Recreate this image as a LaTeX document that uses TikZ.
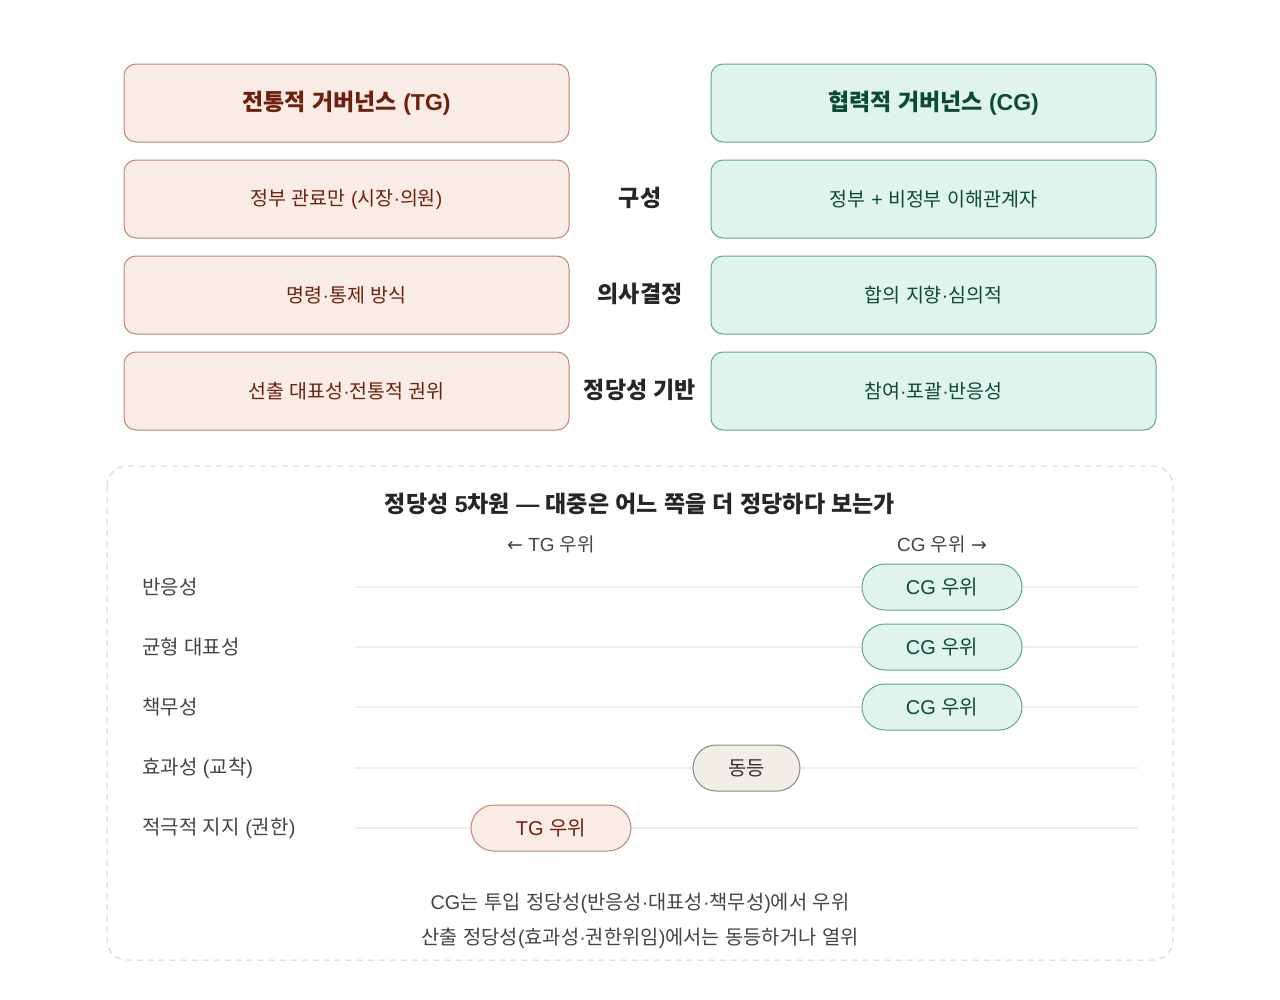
\documentclass[tikz,border=0pt]{standalone}
\usepackage{fontspec}
\setmainfont{Noto Sans CJK KR}
\newfontfamily\lat{Liberation Sans}
\newfontfamily\arr{DejaVu Sans}
\newcommand\lt[1]{{\lat#1}}
\usetikzlibrary{shapes.misc}
\definecolor{tgfill}{HTML}{F9ECE6}
\definecolor{tgdraw}{HTML}{C08470}
\definecolor{tgtext}{HTML}{6E200C}
\definecolor{cgfill}{HTML}{E1F4EC}
\definecolor{cgdraw}{HTML}{5FA88C}
\definecolor{cgtext}{HTML}{0A4B33}
\definecolor{eqfill}{HTML}{F1EEE8}
\definecolor{eqdraw}{HTML}{8C8882}
\definecolor{eqtext}{HTML}{333333}
\definecolor{graytext}{HTML}{444444}
\definecolor{rowline}{HTML}{EEEEEE}
\definecolor{dashc}{HTML}{D2D2D2}
\tikzset{
  x=1pt, y=-1pt,
  tgbox/.style={draw=tgdraw, fill=tgfill, line width=1pt, rounded corners=12pt, minimum width=445pt, minimum height=78pt, text=tgtext, inner sep=0pt},
  cgbox/.style={draw=cgdraw, fill=cgfill, line width=1pt, rounded corners=12pt, minimum width=445pt, minimum height=78pt, text=cgtext, inner sep=0pt},
  headtxt/.style={font=\fontsize{23}{27}\selectfont\bfseries},
  celltxt/.style={font=\fontsize{19.5}{23}\selectfont},
  midlabel/.style={font=\fontsize{23}{27}\selectfont\bfseries, text=black!85},
  rowlabel/.style={anchor=west, inner sep=0pt, font=\fontsize{20}{24}\selectfont, text=graytext},
  rowrule/.style={draw=rowline, line width=1.6pt},
  pill/.style={rounded rectangle, line width=1pt, minimum height=46pt, font=\fontsize{20}{24}\selectfont, inner sep=0pt},
  cgpill/.style={pill, draw=cgdraw, fill=cgfill, text=cgtext, minimum width=160pt},
  tgpill/.style={pill, draw=tgdraw, fill=tgfill, text=tgtext, minimum width=160pt},
  eqpill/.style={pill, draw=eqdraw, fill=eqfill, text=eqtext, minimum width=107pt},
  axistxt/.style={font=\fontsize{19}{23}\selectfont, text=graytext},
  notetxt/.style={font=\fontsize{19.8}{23}\selectfont, text=graytext},
}
\begin{document}
\begin{tikzpicture}
\useasboundingbox (0,0) rectangle (1280,999);
% top comparison
\node[tgbox, headtxt] (tg0) at (346.5,103) {전통적\lt{ }거버넌스\lt{ (TG)}};
\node[cgbox, headtxt] (cg0) at (933.5,103) {협력적\lt{ }거버넌스\lt{ (CG)}};
\node[tgbox, celltxt] (tg1) at (346.5,199) {정부\lt{ }관료만\lt{ (}시장\lt{·}의원\lt{)}};
\node[cgbox, celltxt] (cg1) at (933.5,199) {정부\lt{ + }비정부\lt{ }이해관계자};
\node[tgbox, celltxt] (tg2) at (346.5,295) {명령\lt{·}통제\lt{ }방식};
\node[cgbox, celltxt] (cg2) at (933.5,295) {합의\lt{ }지향\lt{·}심의적};
\node[tgbox, celltxt] (tg3) at (346.5,391) {선출\lt{ }대표성\lt{·}전통적\lt{ }권위};
\node[cgbox, celltxt] (cg3) at (933.5,391) {참여\lt{·}포괄\lt{·}반응성};
\node[midlabel] (m1) at (640,198) {구성};
\node[midlabel] (m2) at (640,294) {의사결정};
\node[midlabel] (m3) at (640,390) {정당성\lt{ }기반};
% lower panel
\draw[dashc, line width=1pt, dash pattern=on 6pt off 5pt, rounded corners=20pt] (107,466) rectangle (1173,960);
\node[font=\fontsize{23}{27}\selectfont\bfseries, text=black!85] (title) at (640,504) {정당성\lt{ 5}차원\lt{ — }대중은\lt{ }어느\lt{ }쪽을\lt{ }더\lt{ }정당하다\lt{ }보는가};
\node[axistxt] (axl) at (551,544) {{\arr ←}\lt{ TG }우위};
\node[axistxt] (axr) at (942,544) {\lt{CG }우위\lt{ }{\arr →}};
\foreach \y/\lab/\nm in {587/반응성/r1, 647/균형\lt{ }대표성/r2, 707/책무성/r3, 768/효과성\lt{ (}교착\lt{)}/r4, 828/적극적\lt{ }지지\lt{ (}권한\lt{)}/r5}{
  \node[rowlabel] (\nm) at (142,\y) {\lab};
  \coordinate (\nm a) at (355,\y);
  \coordinate (\nm b) at (1138,\y);
  \draw[rowrule] (\nm a) -- (\nm b);
}
\node[cgpill] (p1) at (942,587) {\lt{CG }우위};
\node[cgpill] (p2) at (942,647) {\lt{CG }우위};
\node[cgpill] (p3) at (942,707) {\lt{CG }우위};
\node[eqpill] (p4) at (746.5,768) {동등};
\node[tgpill] (p5) at (551,828) {\lt{TG }우위};
\node[notetxt] (n1) at (640,903) {\lt{CG}는\lt{ }투입\lt{ }정당성\lt{(}반응성\lt{·}대표성\lt{·}책무성\lt{)}에서\lt{ }우위};
\node[notetxt] (n2) at (640,938) {산출\lt{ }정당성\lt{(}효과성\lt{·}권한위임\lt{)}에서는\lt{ }동등하거나\lt{ }열위};
\end{tikzpicture}
\end{document}
